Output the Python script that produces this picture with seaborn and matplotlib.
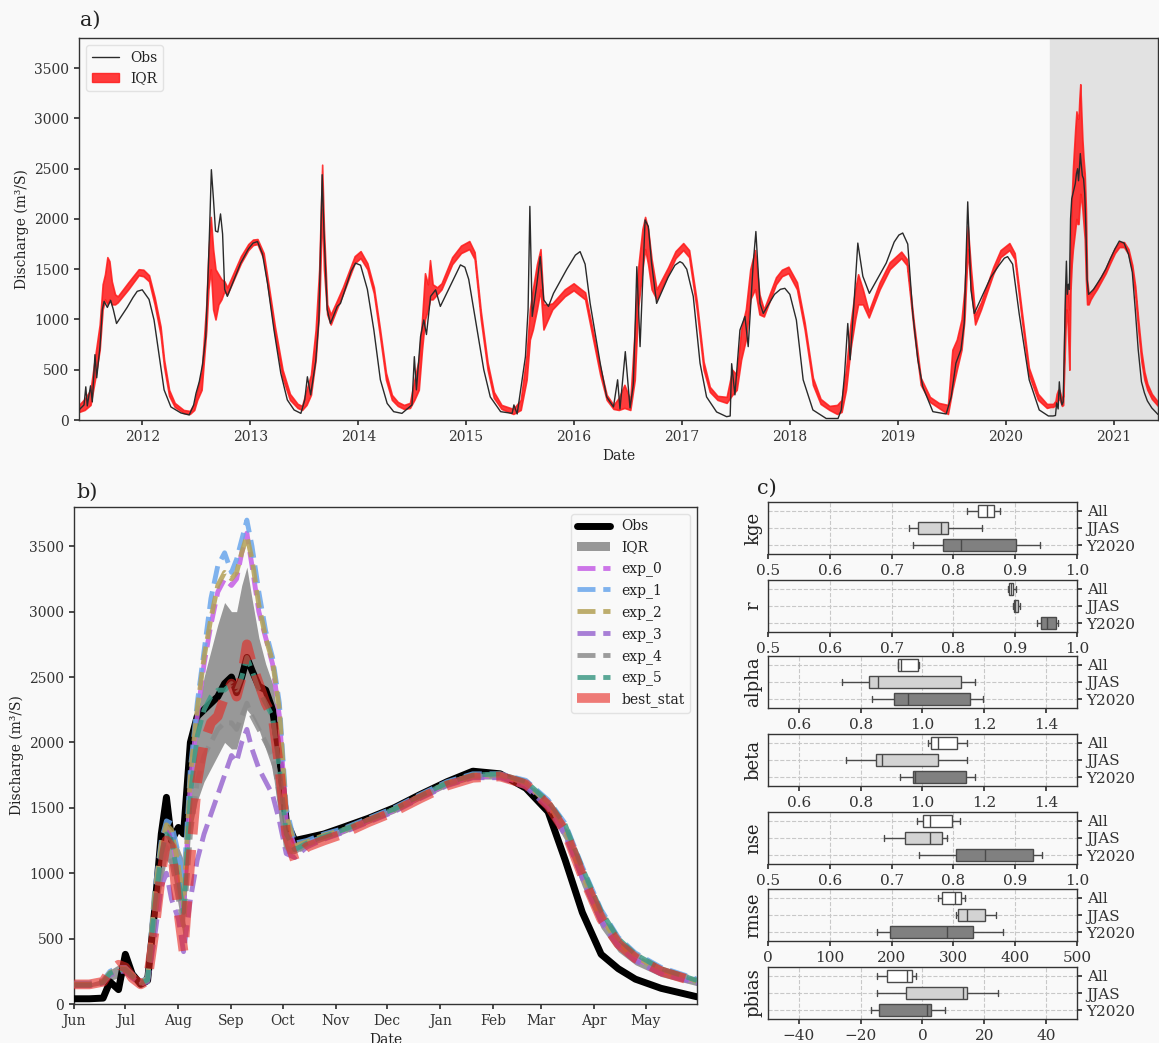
import pandas as pd
import matplotlib
matplotlib.use("Agg")
import matplotlib.pyplot as plt
import matplotlib.dates as mdates
from matplotlib.lines import Line2D
from matplotlib.patches import Patch
import seaborn as sns

obs_a = [
    ("2011-06-01", 100), ("2011-06-18", 150), ("2011-06-24", 330), ("2011-06-29", 140),
    ("2011-07-10", 340), ("2011-07-16", 180), ("2011-07-25", 650), ("2011-07-31", 420),
    ("2011-08-11", 730), ("2011-08-19", 1100), ("2011-08-25", 1180), ("2011-09-05", 1120),
    ("2011-09-16", 1190), ("2011-09-25", 1100), ("2011-10-06", 960), ("2011-11-11", 1120),
    ("2011-12-01", 1220), ("2011-12-15", 1280), ("2012-01-01", 1295), ("2012-01-24", 1200),
    ("2012-02-10", 995), ("2012-02-27", 650), ("2012-03-15", 300), ("2012-04-07", 130),
    ("2012-05-11", 70), ("2012-06-08", 50), ("2012-06-23", 150), ("2012-07-01", 265),
    ("2012-07-12", 380), ("2012-07-23", 550), ("2012-08-03", 830), ("2012-08-11", 1460),
    ("2012-08-16", 1900), ("2012-08-22", 2490), ("2012-08-29", 2200), ("2012-09-05", 1880),
    ("2012-09-13", 1870), ("2012-09-22", 2050), ("2012-09-29", 1850), ("2012-10-06", 1300),
    ("2012-10-15", 1230), ("2012-11-29", 1560), ("2012-12-25", 1700), ("2013-01-10", 1760),
    ("2013-01-25", 1775), ("2013-02-11", 1650), ("2013-02-28", 1360), ("2013-03-22", 895),
    ("2013-04-14", 465), ("2013-05-06", 200), ("2013-05-29", 100), ("2013-06-21", 66),
    ("2013-07-04", 200), ("2013-07-13", 430), ("2013-07-24", 250), ("2013-08-10", 580),
    ("2013-08-21", 995), ("2013-09-01", 2440), ("2013-09-07", 1890), ("2013-09-18", 1100),
    ("2013-09-29", 960), ("2013-10-22", 1130), ("2013-11-02", 1160), ("2013-12-08", 1480),
    ("2013-12-23", 1560), ("2014-01-09", 1540), ("2014-02-01", 1300), ("2014-02-23", 895),
    ("2014-03-17", 400), ("2014-04-09", 165), ("2014-05-01", 83), ("2014-05-29", 66),
    ("2014-06-16", 110), ("2014-07-02", 150), ("2014-07-10", 630), ("2014-07-17", 300),
    ("2014-07-31", 830), ("2014-08-11", 995), ("2014-08-20", 850), ("2014-09-03", 1230),
    ("2014-09-20", 1295), ("2014-10-06", 1130), ("2014-11-08", 1330), ("2014-12-13", 1543),
    ("2014-12-28", 1520), ("2015-01-10", 1400), ("2015-01-27", 1100), ("2015-03-02", 500),
    ("2015-03-24", 230), ("2015-04-28", 83), ("2015-06-06", 66), ("2015-06-12", 150),
    ("2015-06-23", 60), ("2015-07-21", 630), ("2015-07-30", 1100), ("2015-08-05", 2125),
    ("2015-08-13", 1030), ("2015-08-29", 1360), ("2015-09-09", 1625), ("2015-09-21", 1195),
    ("2015-10-07", 1130), ("2015-10-24", 1260), ("2015-12-08", 1500), ("2016-01-06", 1640),
    ("2016-01-22", 1675), ("2016-02-08", 1550), ("2016-02-25", 1160), ("2016-03-30", 565),
    ("2016-04-21", 230), ("2016-05-14", 130), ("2016-05-28", 400), ("2016-06-05", 110),
    ("2016-06-23", 680), ("2016-07-09", 120), ("2016-07-20", 350), ("2016-07-26", 895),
    ("2016-08-01", 1525), ("2016-08-12", 730), ("2016-08-21", 1400), ("2016-08-29", 1990),
    ("2016-09-09", 1925), ("2016-09-20", 1560), ("2016-10-07", 1160), ("2016-11-15", 1420),
    ("2016-12-08", 1540), ("2016-12-25", 1575), ("2017-01-03", 1560), ("2017-01-17", 1500),
    ("2017-02-08", 1230), ("2017-03-03", 565), ("2017-03-25", 230), ("2017-04-28", 80),
    ("2017-06-01", 33), ("2017-06-13", 40), ("2017-06-18", 560), ("2017-06-29", 250),
    ("2017-07-16", 895), ("2017-08-02", 1030), ("2017-08-13", 730), ("2017-08-30", 1560),
    ("2017-09-08", 1875), ("2017-09-22", 1160), ("2017-10-03", 1060), ("2017-11-10", 1250),
    ("2017-11-30", 1300), ("2017-12-15", 1310), ("2018-01-01", 1250), ("2018-01-23", 995),
    ("2018-02-15", 400), ("2018-03-20", 100), ("2018-05-04", 15), ("2018-06-13", 15),
    ("2018-06-24", 100), ("2018-07-05", 450), ("2018-07-16", 960), ("2018-07-24", 600),
    ("2018-08-08", 1250), ("2018-08-19", 1760), ("2018-09-05", 1430), ("2018-09-27", 1260),
    ("2018-11-23", 1560), ("2018-12-20", 1770), ("2019-01-05", 1840), ("2019-01-18", 1860),
    ("2019-02-04", 1750), ("2019-02-21", 1060), ("2019-03-10", 600), ("2019-03-27", 330),
    ("2019-04-30", 83), ("2019-06-14", 60), ("2019-07-01", 230), ("2019-07-17", 565),
    ("2019-08-03", 700), ("2019-08-14", 960), ("2019-08-26", 2170), ("2019-09-06", 1295),
    ("2019-09-17", 1060), ("2019-11-12", 1420), ("2019-12-10", 1540), ("2019-12-28", 1610),
    ("2020-01-08", 1625), ("2020-01-25", 1550), ("2020-02-16", 1060), ("2020-03-21", 400),
    ("2020-04-24", 100), ("2020-05-25", 40),
]

# simulated IQR band (date, low, high) 2011-2020
iqr_a = [
    ("2011-06-01", 80, 150), ("2011-06-20", 100, 210), ("2011-07-10", 150, 300),
    ("2011-07-25", 400, 620), ("2011-08-10", 700, 950), ("2011-08-20", 1100, 1350),
    ("2011-08-28", 1200, 1450), ("2011-09-05", 1150, 1620), ("2011-09-12", 1200, 1580),
    ("2011-09-20", 1150, 1380), ("2011-10-01", 1150, 1250), ("2011-10-10", 1170, 1230),
    ("2011-11-15", 1300, 1370), ("2011-12-20", 1440, 1500), ("2012-01-05", 1430, 1495),
    ("2012-01-24", 1380, 1440), ("2012-02-12", 1150, 1220), ("2012-03-03", 850, 930),
    ("2012-03-15", 530, 600), ("2012-04-01", 240, 300), ("2012-04-20", 130, 170),
    ("2012-05-20", 70, 100), ("2012-06-10", 60, 90), ("2012-06-25", 100, 160),
    ("2012-07-05", 200, 300), ("2012-07-20", 300, 480), ("2012-08-05", 900, 1150),
    ("2012-08-12", 1300, 1650), ("2012-08-20", 1500, 2020), ("2012-08-28", 1100, 1700),
    ("2012-09-05", 1000, 1500), ("2012-09-15", 1150, 1450), ("2012-09-25", 1200, 1400),
    ("2012-10-05", 1280, 1380), ("2012-10-15", 1250, 1320), ("2012-11-30", 1560, 1630),
    ("2012-12-25", 1690, 1750), ("2013-01-10", 1740, 1795), ("2013-01-25", 1750, 1800),
    ("2013-02-15", 1600, 1660), ("2013-03-05", 1250, 1320), ("2013-03-25", 850, 930),
    ("2013-04-20", 420, 500), ("2013-05-15", 200, 260), ("2013-06-10", 120, 160),
    ("2013-06-25", 100, 140), ("2013-07-10", 150, 300), ("2013-07-25", 250, 450),
    ("2013-08-10", 600, 900), ("2013-08-22", 1100, 1500), ("2013-09-01", 2100, 2540),
    ("2013-09-07", 1500, 1900), ("2013-09-18", 1050, 1150), ("2013-09-30", 950, 1050),
    ("2013-10-20", 1100, 1180), ("2013-11-10", 1250, 1320), ("2013-12-20", 1560, 1630),
    ("2014-01-09", 1610, 1680), ("2014-02-01", 1500, 1560), ("2014-02-23", 1260, 1320),
    ("2014-03-15", 850, 920), ("2014-04-05", 400, 470), ("2014-04-25", 200, 250),
    ("2014-05-15", 140, 180), ("2014-06-05", 110, 150), ("2014-06-25", 120, 170),
    ("2014-07-10", 200, 400), ("2014-07-25", 300, 600), ("2014-08-05", 700, 1000),
    ("2014-08-15", 1000, 1460), ("2014-08-25", 1100, 1350), ("2014-09-01", 1200, 1590),
    ("2014-09-10", 1200, 1350), ("2014-09-25", 1250, 1320), ("2014-10-10", 1300, 1360),
    ("2014-11-15", 1550, 1620), ("2014-12-15", 1660, 1735), ("2015-01-12", 1700, 1780),
    ("2015-01-30", 1600, 1670), ("2015-02-20", 1000, 1080), ("2015-03-15", 500, 570),
    ("2015-04-05", 220, 280), ("2015-05-01", 110, 150), ("2015-06-10", 60, 110),
    ("2015-07-05", 100, 200), ("2015-07-25", 400, 650), ("2015-08-05", 800, 1100),
    ("2015-08-15", 900, 1300), ("2015-08-29", 1100, 1550), ("2015-09-10", 1300, 1700),
    ("2015-09-20", 900, 1150), ("2015-10-05", 1000, 1150), ("2015-10-20", 1100, 1160),
    ("2015-12-01", 1230, 1300), ("2015-12-31", 1290, 1360), ("2016-02-08", 1200, 1270),
    ("2016-02-25", 950, 1020), ("2016-03-30", 450, 520), ("2016-04-21", 200, 250),
    ("2016-05-14", 110, 150), ("2016-06-01", 100, 220), ("2016-06-20", 120, 350),
    ("2016-07-10", 100, 200), ("2016-07-25", 400, 900), ("2016-08-05", 1100, 1500),
    ("2016-08-20", 1500, 1900), ("2016-08-29", 1700, 2020), ("2016-09-08", 1550, 1900),
    ("2016-09-20", 1300, 1600), ("2016-10-07", 1200, 1300), ("2016-11-15", 1450, 1520),
    ("2016-12-10", 1610, 1680), ("2017-01-05", 1690, 1760), ("2017-01-25", 1620, 1690),
    ("2017-02-20", 1100, 1180), ("2017-03-15", 500, 580), ("2017-04-05", 280, 330),
    ("2017-05-01", 200, 240), ("2017-06-01", 170, 230), ("2017-06-20", 250, 500),
    ("2017-07-05", 300, 450), ("2017-07-20", 600, 900), ("2017-08-05", 800, 1100),
    ("2017-08-20", 1200, 1500), ("2017-09-05", 1300, 1690), ("2017-09-20", 1050, 1250),
    ("2017-10-05", 1030, 1100), ("2017-11-15", 1350, 1420), ("2017-12-05", 1430, 1495),
    ("2017-12-27", 1460, 1525), ("2018-01-25", 1300, 1370), ("2018-02-20", 900, 970),
    ("2018-03-20", 350, 420), ("2018-04-15", 160, 210), ("2018-05-15", 100, 140),
    ("2018-06-10", 60, 150), ("2018-06-25", 80, 200), ("2018-07-10", 300, 500),
    ("2018-07-25", 700, 950), ("2018-08-10", 1000, 1300), ("2018-08-20", 1150, 1450),
    ("2018-09-05", 1150, 1300), ("2018-09-25", 1020, 1080), ("2018-11-01", 1300, 1370),
    ("2018-12-05", 1500, 1570), ("2019-01-13", 1610, 1675), ("2019-02-01", 1540, 1600),
    ("2019-02-25", 880, 960), ("2019-03-20", 350, 420), ("2019-04-20", 180, 230),
    ("2019-05-20", 120, 170), ("2019-06-20", 60, 150), ("2019-07-05", 300, 700),
    ("2019-07-20", 500, 800), ("2019-08-05", 700, 1000), ("2019-08-15", 1000, 1300),
    ("2019-08-26", 1700, 1930), ("2019-09-06", 1300, 1500), ("2019-09-20", 950, 1050),
    ("2019-10-10", 1100, 1170), ("2019-11-20", 1450, 1520), ("2019-12-15", 1620, 1690),
    ("2020-01-14", 1690, 1760), ("2020-02-01", 1600, 1660), ("2020-02-25", 1000, 1080),
    ("2020-03-20", 450, 520), ("2020-04-20", 200, 260), ("2020-05-20", 120, 160),
]

# ---------------- panel b: water year Jun 2020 - May 2021
dates_b = [
    "2020-06-01", "2020-06-10", "2020-06-18", "2020-06-22", "2020-06-27",
    "2020-07-01", "2020-07-05", "2020-07-10", "2020-07-14", "2020-07-18",
    "2020-07-22", "2020-07-25", "2020-07-28", "2020-08-01", "2020-08-04",
    "2020-08-08", "2020-08-12", "2020-08-16", "2020-08-20", "2020-08-24",
    "2020-08-28", "2020-09-01", "2020-09-04", "2020-09-07", "2020-09-10",
    "2020-09-13", "2020-09-17", "2020-09-21", "2020-09-25", "2020-09-29",
    "2020-10-03", "2020-10-08", "2020-10-15", "2020-10-25", "2020-11-05",
    "2020-11-20", "2020-12-05", "2020-12-20", "2021-01-05", "2021-01-20",
    "2021-02-05", "2021-02-20", "2021-03-05", "2021-03-15", "2021-03-25",
    "2021-04-05", "2021-04-15", "2021-04-25", "2021-05-10", "2021-05-31",
]
obs_b = [40, 40, 45, 170, 110, 380, 230, 150, 180, 700,
         1300, 1580, 1250, 1350, 1300, 2000, 2200, 2250, 2300, 2350,
         2450, 2500, 2380, 2500, 2650, 2550, 2430, 2400, 2250, 1900,
         1400, 1250, 1270, 1300, 1350, 1420, 1500, 1600, 1700, 1780,
         1760, 1650, 1470, 1100, 700, 380, 270, 190, 120, 55]
iqr_lo_b = [130, 130, 150, 180, 200, 220, 180, 140, 150, 550,
            900, 1100, 1050, 750, 500, 1300, 1550, 1700, 1800, 1900,
            2000, 1950, 1950, 2100, 2250, 2200, 2100, 1950, 1800, 1400,
            1150, 1150, 1200, 1250, 1300, 1380, 1460, 1560, 1660, 1720,
            1720, 1650, 1480, 1250, 900, 580, 400, 300, 210, 140]
iqr_hi_b = [160, 160, 190, 260, 300, 300, 260, 190, 250, 900,
            1300, 1350, 1300, 1200, 1100, 1800, 2200, 2500, 2700, 2900,
            3070, 3000, 3000, 3200, 3340, 3100, 2800, 2600, 2450, 2100,
            1400, 1260, 1260, 1310, 1350, 1430, 1510, 1610, 1710, 1770,
            1770, 1700, 1540, 1330, 1000, 680, 480, 360, 260, 180]
exp_0 = [150, 150, 170, 230, 260, 270, 220, 160, 190, 800,
         1200, 1350, 1300, 1000, 700, 1700, 2200, 2600, 2900, 3150,
         3250, 3200, 3250, 3450, 3600, 3350, 3000, 2800, 2600, 2200,
         1400, 1200, 1230, 1280, 1320, 1400, 1480, 1580, 1680, 1740,
         1740, 1680, 1520, 1320, 980, 650, 460, 350, 250, 170]
exp_1 = [160, 160, 180, 250, 280, 280, 230, 170, 200, 850,
         1250, 1400, 1380, 1150, 900, 1800, 2300, 2700, 3100, 3350,
         3450, 3300, 3400, 3550, 3700, 3500, 3150, 2850, 2650, 2300,
         1500, 1230, 1250, 1300, 1340, 1420, 1500, 1600, 1700, 1760,
         1760, 1710, 1560, 1380, 1050, 720, 510, 390, 280, 190]
exp_2 = [150, 150, 175, 240, 270, 270, 225, 165, 195, 820,
         1220, 1370, 1330, 1050, 750, 1750, 2250, 2650, 2950, 3200,
         3300, 3250, 3300, 3450, 3580, 3400, 3050, 2800, 2620, 2250,
         1450, 1210, 1240, 1290, 1330, 1410, 1490, 1590, 1690, 1750,
         1750, 1690, 1530, 1330, 990, 660, 470, 360, 260, 175]
exp_3 = [140, 140, 160, 220, 250, 250, 200, 150, 170, 500,
         900, 1000, 800, 650, 400, 800, 1100, 1300, 1450, 1600,
         1750, 1900, 1850, 2000, 2100, 1950, 1800, 1700, 1600, 1400,
         1150, 1120, 1200, 1260, 1310, 1390, 1470, 1570, 1670, 1730,
         1730, 1660, 1500, 1290, 960, 630, 440, 330, 230, 160]
exp_4 = [145, 145, 165, 230, 260, 260, 210, 155, 180, 650,
         1050, 1200, 1100, 800, 600, 1300, 1700, 1900, 2000, 2100,
         2150, 2150, 2100, 2200, 2300, 2200, 2100, 2000, 1900, 1600,
         1200, 1150, 1220, 1270, 1320, 1400, 1480, 1580, 1680, 1740,
         1750, 1690, 1540, 1350, 1020, 700, 500, 380, 270, 185]
exp_5 = [145, 145, 165, 235, 265, 265, 215, 160, 185, 750,
         1150, 1300, 1250, 950, 700, 1600, 2050, 2250, 2350, 2400,
         2400, 2450, 2400, 2500, 2650, 2550, 2400, 2300, 2200, 1800,
         1300, 1180, 1230, 1280, 1330, 1410, 1490, 1590, 1690, 1750,
         1760, 1700, 1550, 1370, 1040, 710, 500, 380, 270, 180]
best_stat = [150, 150, 170, 250, 300, 280, 200, 150, 180, 550,
             1000, 1250, 1200, 700, 400, 1100, 1700, 2000, 2150, 2200,
             2350, 2450, 2350, 2500, 2750, 2600, 2450, 2300, 2200, 1800,
             1300, 1100, 1200, 1250, 1300, 1390, 1470, 1570, 1670, 1730,
             1740, 1680, 1520, 1320, 980, 650, 460, 350, 250, 165]
exp_names = ["exp_0", "exp_1", "exp_2", "exp_3", "exp_4", "exp_5"]
exp_colors = ["#c55ee6", "#6aa6ec", "#b3a055", "#9a6ad0", "#8c8c8c", "#3f9a86"]

# ---------------- panel c: skill scores (min, q1, median, q3, max)
periods = ["All", "JJAS", "Y2020"]
box_colors = ["#ffffff", "#d3d3d3", "#808080"]
kge = {"All": [0.822, 0.840, 0.855, 0.865, 0.875],
       "JJAS": [0.728, 0.742, 0.780, 0.792, 0.847],
       "Y2020": [0.735, 0.783, 0.813, 0.902, 0.940]}
r = {"All": [0.888, 0.890, 0.893, 0.897, 0.901],
     "JJAS": [0.897, 0.898, 0.900, 0.904, 0.908],
     "Y2020": [0.935, 0.941, 0.952, 0.966, 0.970]}
alpha = {"All": [0.920, 0.922, 0.930, 0.985, 0.990],
         "JJAS": [0.738, 0.826, 0.857, 1.124, 1.170],
         "Y2020": [0.838, 0.909, 0.952, 1.154, 1.197]}
beta = {"All": [1.019, 1.028, 1.051, 1.111, 1.143],
        "JJAS": [0.754, 0.851, 0.870, 1.051, 1.145],
        "Y2020": [0.927, 0.970, 0.976, 1.140, 1.170]}
nse = {"All": [0.741, 0.751, 0.762, 0.798, 0.810],
       "JJAS": [0.688, 0.721, 0.762, 0.781, 0.789],
       "Y2020": [0.744, 0.804, 0.851, 0.929, 0.943]}
rmse = {"All": [275, 282, 303, 312, 318],
        "JJAS": [304, 308, 322, 351, 369],
        "Y2020": [177, 198, 289, 332, 380]}
pbias = {"All": [-14.7, -11.4, -5.1, -3.4, -2.0],
         "JJAS": [-14.7, -5.4, 13.0, 14.5, 24.3],
         "Y2020": [-16.8, -14.2, 1.5, 2.6, 7.2]}
metrics = [("kge", kge, (0.5, 1.0), [0.5, 0.6, 0.7, 0.8, 0.9, 1.0]),
           ("r", r, (0.5, 1.0), [0.5, 0.6, 0.7, 0.8, 0.9, 1.0]),
           ("alpha", alpha, (0.5, 1.5), [0.6, 0.8, 1.0, 1.2, 1.4]),
           ("beta", beta, (0.5, 1.5), [0.6, 0.8, 1.0, 1.2, 1.4]),
           ("nse", nse, (0.5, 1.0), [0.5, 0.6, 0.7, 0.8, 0.9, 1.0]),
           ("rmse", rmse, (0, 500), [0, 100, 200, 300, 400, 500]),
           ("pbias", pbias, (-50, 50), [-40, -20, 0, 20, 40])]

# ---------------- style
sns.set_theme(style="ticks", rc={
    "axes.edgecolor": "#333333", "axes.linewidth": 1.0,
    "xtick.major.size": 3.5, "ytick.major.size": 3.5,
    "xtick.color": "#333333", "ytick.color": "#333333",
    "axes.labelcolor": "#222222", "text.color": "#222222",
})
plt.rcParams["font.family"] = ["DejaVu Serif"]
bg = "#f9f9f9"

fig = plt.figure(figsize=(11.59, 10.43), dpi=100, facecolor=bg)
W, H = 1159.0, 1043.0


def rect(left, top, right, bottom):
    return [left / W, 1 - bottom / H, (right - left) / W, (bottom - top) / H]


# ---------------- a)
ax_a = fig.add_axes(rect(79, 38, 1158, 420))
ax_a.set_facecolor(bg)
t0, t1 = pd.Timestamp("2011-06-01"), pd.Timestamp("2021-05-31")
ax_a.axvspan(pd.Timestamp("2020-06-01"), t1, color="#e2e2e2", zorder=0)

obs_a_dates = pd.to_datetime([d for d, v in obs_a] + dates_b)
obs_a_vals = [v for d, v in obs_a] + obs_b
iqr_a_dates = pd.to_datetime([d for d, lo, hi in iqr_a] + dates_b)
iqr_a_lo = [lo for d, lo, hi in iqr_a] + iqr_lo_b
iqr_a_hi = [hi for d, lo, hi in iqr_a] + iqr_hi_b

ax_a.fill_between(iqr_a_dates, iqr_a_lo, iqr_a_hi, color="#ff1a1a", alpha=0.85,
                  lw=1.2, zorder=2)
sns.lineplot(x=obs_a_dates, y=obs_a_vals, ax=ax_a, color="#2a2a2a", lw=1.0, zorder=3)
ax_a.set_xlim(t0, t1)
ax_a.set_ylim(0, 3800)
ax_a.set_yticks(range(0, 3501, 500))
ax_a.xaxis.set_major_locator(mdates.YearLocator())
ax_a.xaxis.set_major_formatter(mdates.DateFormatter("%Y"))
ax_a.tick_params(labelsize=10)
ax_a.set_xlabel("Date", fontsize=10)
ax_a.set_ylabel("Discharge (m³/S)", fontsize=10)
ax_a.legend(handles=[Line2D([], [], color="#2a2a2a", lw=1.0, label="Obs"),
                     Patch(color="#ff1a1a", alpha=0.85, label="IQR")],
            loc="upper left", fontsize=10, frameon=True, facecolor=bg,
            edgecolor="#dddddd")

# ---------------- b)
ax_b = fig.add_axes(rect(74, 507, 697, 1004))
ax_b.set_facecolor(bg)
xb = pd.to_datetime(dates_b)
sns.lineplot(x=xb, y=obs_b, ax=ax_b, color="black", lw=5, label="Obs", zorder=3)
ax_b.fill_between(xb, iqr_lo_b, iqr_hi_b, color="#8e8e8e", alpha=0.9, lw=0,
                  label="IQR", zorder=2)
for name, vals, col in zip(exp_names, [exp_0, exp_1, exp_2, exp_3, exp_4, exp_5], exp_colors):
    sns.lineplot(x=xb, y=vals, ax=ax_b, color=col, lw=3.5, linestyle="--", alpha=0.85,
                 label=name, zorder=4)
sns.lineplot(x=xb, y=best_stat, ax=ax_b, color="#e8251f", lw=7, linestyle="--",
             alpha=0.6, label="best_stat", zorder=5)
ax_b.set_xlim(pd.Timestamp("2020-06-01"), pd.Timestamp("2021-05-31"))
ax_b.set_ylim(0, 3800)
ax_b.set_yticks(range(0, 3501, 500))
ax_b.xaxis.set_major_locator(mdates.MonthLocator())
ax_b.xaxis.set_major_formatter(mdates.DateFormatter("%b"))
ax_b.tick_params(labelsize=10)
ax_b.set_xlabel("Date", fontsize=10)
ax_b.set_ylabel("Discharge (m³/S)", fontsize=10)
ax_b.legend(loc="upper right", fontsize=10, frameon=True, facecolor=bg,
            edgecolor="#dddddd", handlelength=2.4)

# ---------------- c)
tops = [502, 580, 656, 734, 812, 889, 967]
for (name, data, lim, ticks), top in zip(metrics, tops):
    ax = fig.add_axes(rect(768, top, 1077, top + 52))
    ax.set_facecolor(bg)
    df = pd.DataFrame([(p, v) for p in periods for v in data[p]], columns=["period", "value"])
    sns.boxplot(data=df, x="value", y="period", hue="period", order=periods,
                hue_order=periods, palette=box_colors, whis=(0, 100), width=0.7,
                linecolor="#4a4a4a", linewidth=1.0, legend=False, ax=ax)
    ax.set_xlim(*lim)
    ax.set_xticks(ticks)
    ax.grid(True, linestyle="--", color="#c8c8c8", lw=0.8)
    ax.set_axisbelow(True)
    ax.yaxis.tick_right()
    ax.yaxis.set_label_position("left")
    ax.set_xlabel("")
    ax.set_ylabel(name, fontsize=13)
    ax.tick_params(labelsize=11)

fig.text(80 / W, 1 - 20 / H, "a)", fontsize=15, va="center")
fig.text(76 / W, 1 - 492 / H, "b)", fontsize=15, va="center")
fig.text(757 / W, 1 - 488 / H, "c)", fontsize=15, va="center")

fig.savefig("out.png", dpi=100, facecolor=bg)
